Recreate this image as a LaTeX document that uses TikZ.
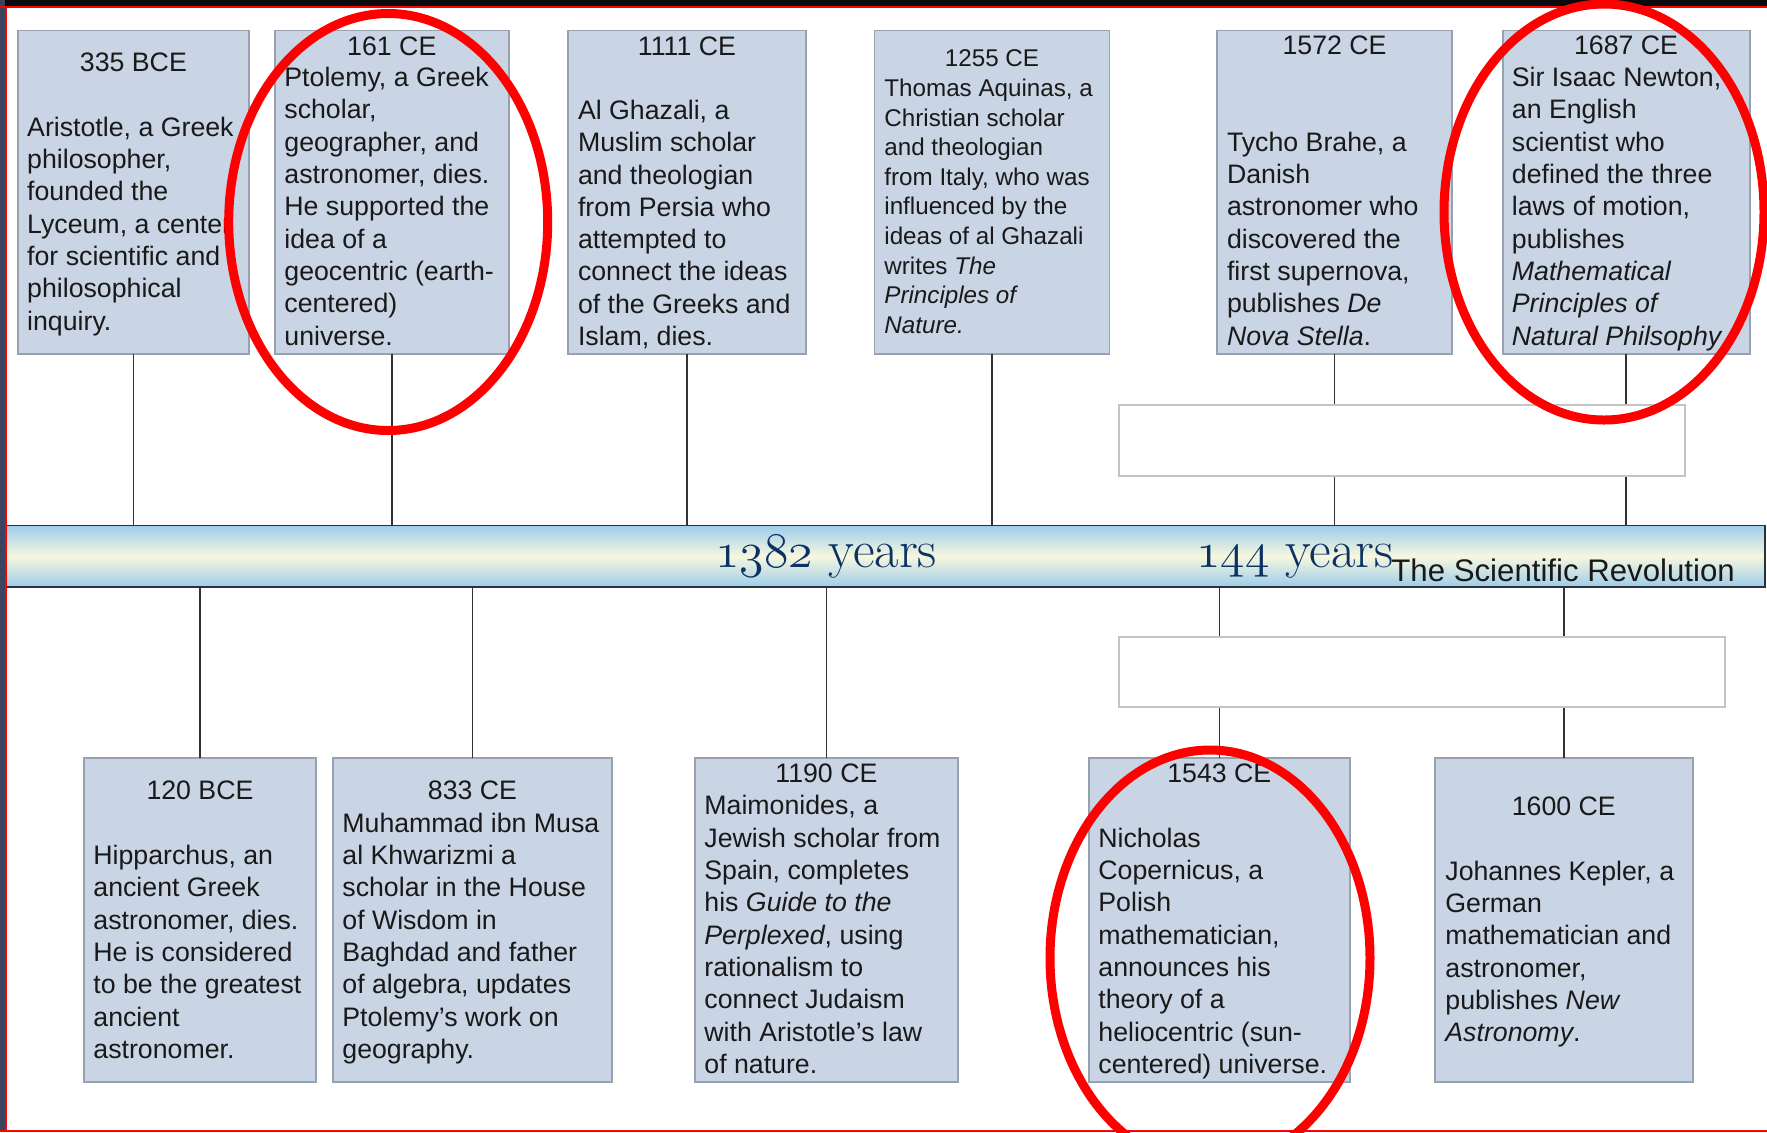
\documentclass[tikz,border=0pt]{standalone}
\usepackage{fontspec}
\newfontfamily\arialf{Liberation Sans}
\usetikzlibrary{fit}
\definecolor{boxfill}{RGB}{201,213,229}
\definecolor{boxline}{RGB}{152,162,174}
\definecolor{connline}{RGB}{50,50,50}
\definecolor{barblue}{RGB}{158,205,234}
\definecolor{barcream}{RGB}{247,247,222}
\definecolor{barline}{RGB}{40,50,62}
\definecolor{navy}{RGB}{12,50,100}
\definecolor{markred}{RGB}{255,0,0}
\definecolor{leftdark}{RGB}{58,68,94}
\definecolor{topdark}{RGB}{10,10,12}
\definecolor{txtcol}{RGB}{25,25,25}
\definecolor{wline}{RGB}{196,196,196}
\newcommand\osf[1]{{\usefont{OML}{cmm}{m}{it}#1}}
\begin{document}
\begin{tikzpicture}[x=0.5pt,y=-0.5pt,
  evbox/.style={draw=boxline, fill=boxfill, line width=0.9pt, inner sep=0pt, outer sep=0pt},
  wbox/.style={draw=wline, fill=white, line width=1pt, inner sep=0pt, outer sep=0pt},
  barbox/.style={draw=barline, line width=0.8pt, top color=barblue, bottom color=barblue, middle color=barcream, inner sep=0pt, outer sep=0pt},
  conn/.style={draw=connline, line width=0.75pt},
  datetxt/.style={font=\arialf\fontsize{13.36}{16.15}\selectfont, text=txtcol, inner sep=0pt, anchor=base},
  bodytxt/.style={font=\arialf\fontsize{13.36}{16.15}\selectfont, text=txtcol, inner sep=0pt, align=left, anchor=base west},
  sdatetxt/.style={datetxt, font=\arialf\fontsize{12.1}{14.79}\selectfont},
  sbodytxt/.style={bodytxt, font=\arialf\fontsize{12.1}{14.79}\selectfont},
  yrs/.style={font=\fontsize{26.5}{31}\selectfont, text=navy, inner sep=0pt, anchor=base west},
  revtxt/.style={font=\arialf\fontsize{15.6}{18}\selectfont, text=txtcol, inner sep=0pt, anchor=base west},
  redmark/.style={draw=markred, line width=4.5pt}
]
\useasboundingbox (0,0) rectangle (1767,1132);
\begin{scope}
\clip (0,0) rectangle (1767,1132);
\fill[white] (0,0) rectangle (1767,1132);

% event boxes (top)
\node[evbox, fit={(18,30.4) (248.7,353.9)}] (t1) {};
\node[evbox, fit={(274.7,30.4) (508.9,353.9)}] (t2) {};
\node[evbox, fit={(567.7,30.4) (806,353.9)}] (t3) {};
\node[evbox, fit={(874.5,30.4) (1109.5,353.9)}] (t4) {};
\node[evbox, fit={(1216.9,30.4) (1452.3,353.9)}] (t5) {};
\node[evbox, fit={(1502.6,30.4) (1749.6,353.9)}] (t6) {};
% event boxes (bottom)
\node[evbox, fit={(83.7,758.3) (316.3,1082.3)}] (b1) {};
\node[evbox, fit={(332.7,758.3) (612.2,1082.3)}] (b2) {};
\node[evbox, fit={(694.7,758.3) (958,1082.3)}] (b3) {};
\node[evbox, fit={(1088.6,758.3) (1350,1082.3)}] (b4) {};
\node[evbox, fit={(1435,758.3) (1692.7,1082.3)}] (b5) {};

% timeline bar
\node[barbox, fit={(5.7,525.5) (1765,586.7)}] (bar) {};

% connectors
\foreach \n in {t1,t2,t3,t4,t5,t6}
  \draw[conn] (\n.south) -- (\n.south |- bar.north);
\foreach \n in {b1,b2,b3,b4,b5}
  \draw[conn] (\n.north) -- (\n.north |- bar.south);

% empty white boxes
\node[wbox, fit={(1119,405.3) (1685,475.7)}] (w1) {};
\node[wbox, fit={(1119,636.7) (1724.7,706.7)}] (w2) {};

% top texts (body nodes anchored at the baseline of their last line)
\node[datetxt] (t1d) at (133.4,71.7) {335 BCE};
\node[bodytxt] (t1b) at (26.8,330) {Aristotle, a Greek\\philosopher,\\founded the\\Lyceum, a center\\for scientific and\\philosophical\\inquiry.};
\node[datetxt] (t2d) at (391.8,55) {161 CE};
\node[bodytxt] (t2b) at (284,345) {Ptolemy, a Greek\\scholar,\\geographer, and\\astronomer, dies.\\He supported the\\idea of a\\geocentric (earth-\\centered)\\universe.};
\node[datetxt] (t3d) at (686.9,55) {1111 CE};
\node[bodytxt] (t3b) at (577.6,345.5) {Al Ghazali, a\\Muslim scholar\\and theologian\\from Persia who\\attempted to\\connect the ideas\\of the Greeks and\\Islam, dies.};
\node[sdatetxt] (t4d) at (992,66.7) {1255 CE};
\node[sbodytxt] (t4b) at (884,333.3) {Thomas Aquinas, a\\Christian scholar\\and theologian\\from Italy, who was\\influenced by the\\ideas of al Ghazali\\writes \textit{The}\\\textit{Principles of}\\\textit{Nature.}};
\node[datetxt] (t5d) at (1334.6,54.3) {1572 CE};
\node[bodytxt] (t5b) at (1226.6,345) {Tycho Brahe, a\\Danish\\astronomer who\\discovered the\\first supernova,\\publishes \textit{De}\\\textit{Nova Stella}.};
\node[datetxt] (t6d) at (1626.1,54.3) {1687 CE};
\node[bodytxt] (t6b) at (1511.5,345) {Sir Isaac Newton,\\an English\\scientist who\\defined the three\\laws of motion,\\publishes\\\textit{Mathematical}\\\textit{Principles of}\\\textit{Natural Philsophy}};

% bottom texts
\node[datetxt] (b1d) at (200,799.3) {120 BCE};
\node[bodytxt] (b1b) at (93,1058.3) {Hipparchus, an\\ancient Greek\\astronomer, dies.\\He is considered\\to be the greatest\\ancient\\astronomer.};
\node[datetxt] (b2d) at (472.5,799.3) {833 CE};
\node[bodytxt] (b2b) at (342,1058.3) {Muhammad ibn Musa\\al Khwarizmi a\\scholar in the House\\of Wisdom in\\Baghdad and father\\of algebra, updates\\Ptolemy’s work on\\geography.};
\node[datetxt] (b3d) at (826.4,782.7) {1190 CE};
\node[bodytxt] (b3b) at (704,1073.3) {Maimonides, a\\Jewish scholar from\\Spain, completes\\his \textit{Guide to the}\\\textit{Perplexed}, using\\rationalism to\\connect Judaism\\with Aristotle’s law\\of nature.};
\node[datetxt] (b4d) at (1219.3,782.7) {1543 CE};
\node[bodytxt] (b4b) at (1098,1073.3) {Nicholas\\Copernicus, a\\Polish\\mathematician,\\announces his\\theory of a\\heliocentric (sun-\\centered) universe.};
\node[datetxt] (b5d) at (1563.8,815) {1600 CE};
\node[bodytxt] (b5b) at (1445,1041.7) {Johannes Kepler, a\\German\\mathematician and\\astronomer,\\publishes \textit{New}\\\textit{Astronomy}.};

% bar texts
\node[yrs] (y1) at (715,567) {\osf{1382} years};
\node[yrs] (y2) at (1196,567) {\osf{144} years};
\node[revtxt] (rev) at (1391,581) {The Scientific Revolution};

% frame
\fill[topdark] (0,0) rectangle (1767,5.5);
\fill[leftdark] (0,0) rectangle (5,1132);
\draw[markred, line width=1pt] (0,6.5) -- (1767,6.5);
\draw[markred, line width=1pt] (5.8,6) -- (5.8,1132);
\draw[markred, line width=1pt] (0,1130.8) -- (1767,1130.8);

% red annotation ellipses
\draw[redmark] (388.2,222) ellipse [x radius=159.5, y radius=208.5];
\draw[redmark] (1604,212) ellipse [x radius=160, y radius=208];
\draw[redmark] (1210,958) ellipse [x radius=160, y radius=208];
\end{scope}
\end{tikzpicture}
\end{document}
